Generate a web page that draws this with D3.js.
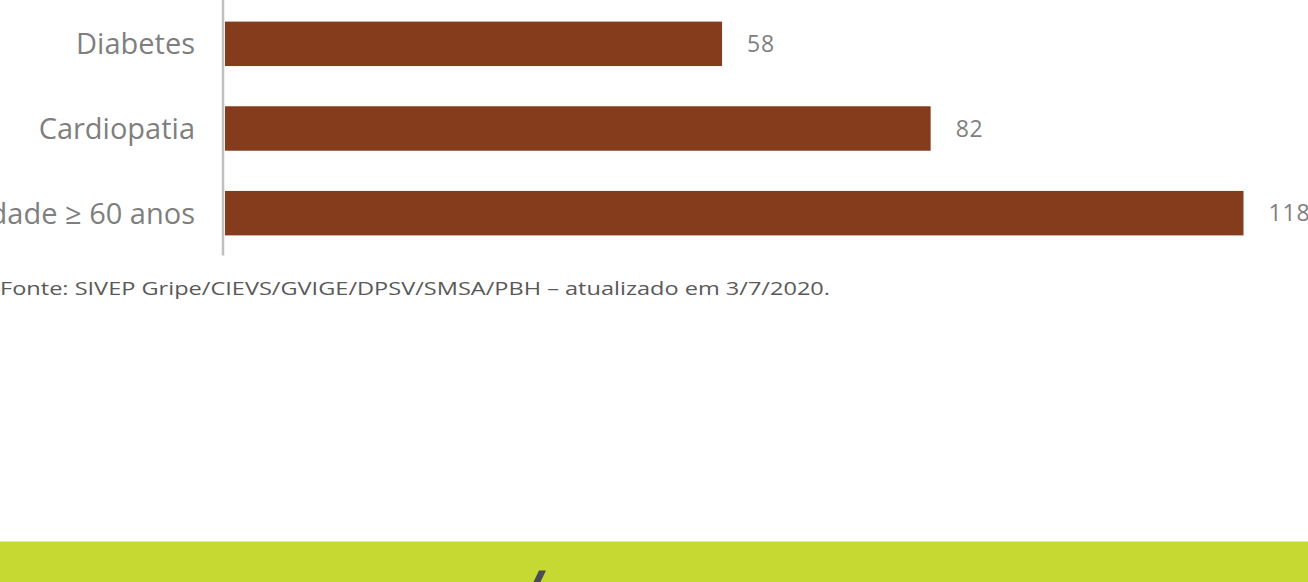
<!DOCTYPE html>
<html>
  <head>
    <title>Comorbidades</title>
  </head>
  <body>
    <svg id="svg" width="1308" height="582"></svg>

    <script src="https://cdn.jsdelivr.net/npm/d3@7"></script>
    <style>
      body,
      html {
        margin: 0;
        padding: 0;
        overflow: hidden;
        background: #fff;
      }
      #svg {
        display: block;
        font-family: "Open Sans", sans-serif;
      }
    </style>
    <script>
      // data
      const categories = ["Diabetes", "Cardiopatia", "Idade ≥ 60 anos"];
      const values = [58, 82, 118];
      const source = "Fonte: SIVEP Gripe/CIEVS/GVIGE/DPSV/SMSA/PBH – atualizado em 3/7/2020.";

      const width = 1308;
      const height = 582;
      const axisX = 223;
      const barColor = "#843c1d";
      const grey = "#7f7f7f";

      const data = categories.map((c, i) => ({ name: c, value: values[i] }));

      const svg = d3.select("#svg");

      // x scale - value to pixels (zero sits just behind the axis line)
      const xscale = d3.scaleLinear()
        .domain([0, 118])
        .range([218, 1243.5]);

      // y scale - one band per category
      const yscale = d3.scaleBand()
        .domain(categories)
        .range([1.5, 255.5])
        .paddingInner(0.475)
        .paddingOuter(0.2375);

      // bars, starting right after the axis line
      svg.append("g")
        .selectAll("rect")
        .data(data)
        .join("rect")
        .attr("x", axisX + 2)
        .attr("y", d => yscale(d.name))
        .attr("width", d => xscale(d.value) - (axisX + 2))
        .attr("height", yscale.bandwidth())
        .attr("fill", barColor);

      // value labels
      svg.append("g")
        .selectAll("text")
        .data(data)
        .join("text")
        .attr("x", d => xscale(d.value) + 25)
        .attr("y", d => yscale(d.name) + yscale.bandwidth() / 2)
        .attr("dy", "0.36em")
        .attr("font-size", 23)
        .attr("letter-spacing", 0.8)
        .attr("fill", grey)
        .text(d => d.value);

      // left axis with category names
      const leftAxis = d3.axisLeft(yscale)
        .tickSize(0)
        .tickSizeOuter(0)
        .tickPadding(28);

      const ax = svg.append("g")
        .attr("transform", `translate(${axisX}, 0)`)
        .call(leftAxis);

      ax.select(".domain")
        .attr("stroke", "#bfbfbf")
        .attr("stroke-width", 2.5)
        .attr("d", "M0,0V255.5");

      ax.selectAll("text")
        .attr("font-family", "Open Sans, sans-serif")
        .attr("font-size", 29)
        .attr("fill", grey)
        .attr("dy", "0.36em");

      // source note
      const note = svg.append("text")
        .attr("x", 0)
        .attr("y", 294.5)
        .attr("font-size", 18)
        .attr("fill", "#595959")
        .text(source);
      note.attr("textLength", 830).attr("lengthAdjust", "spacingAndGlyphs");

      // green footer band of the slide
      svg.append("rect")
        .attr("x", 0)
        .attr("y", 541.5)
        .attr("width", width)
        .attr("height", height - 541.5)
        .attr("fill", "#c6d932");

      // accent of the cut-off title letter
      svg.append("path")
        .attr("d", "M539,570.5 L546,570.5 L539.5,584 L532.5,584 Z")
        .attr("fill", "#4b4b52");
    </script>
  </body>
</html>
